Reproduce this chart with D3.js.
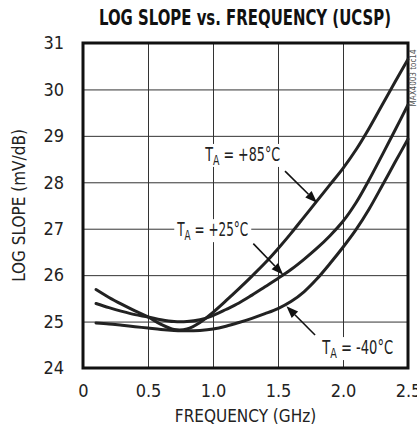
<!DOCTYPE html>
<head>
    <script src="https://d3js.org/d3.v7.min.js"></script>
    <style>
        body { margin: 0; background: #fff; }
        svg text { font-family: "Liberation Sans Narrow", "Arial Narrow", "DejaVu Sans Condensed", sans-serif; font-stretch: condensed; fill: #222; }
    </style>
</head>
<body>
    <script>
        // data
        const freq = [0.1, 0.2, 0.3, 0.4, 0.5, 0.6, 0.7, 0.8, 0.9, 1.0, 1.1, 1.2, 1.3,
            1.4, 1.5, 1.6, 1.7, 1.8, 1.9, 2.0, 2.1, 2.2, 2.3, 2.4, 2.5];
        const slope85 = [25.69, 25.52, 25.37, 25.23, 25.10, 24.94, 24.83, 24.84, 24.98, 25.20, 25.45, 25.71, 25.98,
            26.26, 26.57, 26.90, 27.25, 27.60, 27.95, 28.30, 28.70, 29.16, 29.66, 30.16, 30.65];
        const slope25 = [25.39, 25.30, 25.22, 25.15, 25.10, 25.04, 25.00, 25.00, 25.04, 25.13, 25.26, 25.40, 25.57,
            25.75, 25.93, 26.12, 26.34, 26.58, 26.85, 27.16, 27.56, 28.05, 28.58, 29.12, 29.67];
        const slopeM40 = [24.97, 24.95, 24.92, 24.89, 24.86, 24.83, 24.81, 24.80, 24.81, 24.84, 24.90, 24.98, 25.07,
            25.17, 25.28, 25.43, 25.64, 25.92, 26.25, 26.60, 26.98, 27.42, 27.92, 28.43, 28.93];
        const xTicks = [0, 0.5, 1.0, 1.5, 2.0, 2.5];
        const yTicks = [24, 25, 26, 27, 28, 29, 30, 31];

        // labels + arrows, in data units
        const notes = [
            { temp: "+85°C", lx: 0.94, ly: 28.46, w: 75, from: [1.554, 28.24], to: [1.80, 27.56] },
            { temp: "+25°C", lx: 0.725, ly: 26.84, w: 71, from: [1.31, 26.68], to: [1.54, 26.01] },
            { temp: "-40°C", lx: 1.84, ly: 24.30, w: 71, from: [1.785, 24.71], to: [1.565, 25.33] }
        ];

        const svg = d3.select("body")
            .append("svg")
            .attr("width", 417)
            .attr("height", 431);
        const margin = { top: 43, left: 83, right: 9, bottom: 63 };
        const width = 417 - margin.left - margin.right;
        const height = 431 - margin.top - margin.bottom;
        const chart = svg.append("g")
            .attr("transform", `translate(${margin.left},${margin.top})`);

        const x = d3.scaleLinear().domain([0, 2.5]).range([0, width]);
        const y = d3.scaleLinear().domain([24, 31]).range([height, 0]);

        // title
        svg.append("text")
            .attr("x", 99)
            .attr("y", 25)
            .attr("textLength", 292)
            .attr("lengthAdjust", "spacingAndGlyphs")
            .style("font-size", "21px")
            .style("font-weight", "bold")
            .style("fill", "#111")
            .text("LOG SLOPE vs. FREQUENCY (UCSP)");

        // grid via axes
        const xAxis = chart.append("g")
            .attr("transform", `translate(0,${height})`)
            .call(d3.axisBottom(x).tickValues(xTicks).tickSize(-height).tickPadding(16)
                .tickFormat(d => d === 0 ? "0" : d3.format(".1f")(d)));
        const yAxis = chart.append("g")
            .call(d3.axisLeft(y).tickValues(yTicks).tickSize(-width).tickPadding(19)
                .tickFormat(d3.format("d")));
        [xAxis, yAxis].forEach(a => {
            a.select(".domain").remove();
            a.attr("font-family", null).attr("font-size", null);
            a.selectAll(".tick line").attr("stroke", "#333").attr("stroke-width", 1);
            a.selectAll(".tick text").style("font-size", "18px").attr("fill", "#222");
        });

        // frame
        chart.append("rect")
            .attr("width", width)
            .attr("height", height)
            .attr("fill", "none")
            .attr("stroke", "#111")
            .attr("stroke-width", 3);

        // axis titles
        svg.append("text")
            .attr("x", margin.left + width / 2)
            .attr("y", 422)
            .attr("text-anchor", "middle")
            .style("font-size", "17px")
            .text("FREQUENCY (GHz)");
        svg.append("text")
            .attr("transform", `translate(25,${margin.top + height / 2}) rotate(-90)`)
            .attr("text-anchor", "middle")
            .style("font-size", "17px")
            .text("LOG SLOPE (mV/dB)");

        // side code
        svg.append("text")
            .attr("transform", "translate(416,78) rotate(-90)")
            .attr("text-anchor", "middle")
            .style("font-size", "8px")
            .style("fill", "#555")
            .text("MAX4003 toc14");

        // curves
        const line = d3.line()
            .x((d, i) => x(freq[i]))
            .y(d => y(d))
            .curve(d3.curveCatmullRom.alpha(0.5));
        [slope85, slope25, slopeM40].forEach(s => {
            chart.append("path")
                .datum(s)
                .attr("fill", "none")
                .attr("stroke", "#222")
                .attr("stroke-width", 3)
                .attr("stroke-linecap", "round")
                .attr("d", line);
        });

        // annotations
        notes.forEach(n => {
            const g = chart.append("g");
            const bg = g.append("rect").attr("fill", "#fff")
                .attr("x", x(n.lx) - 3).attr("y", y(n.ly) - 17)
                .attr("width", n.w + 6).attr("height", 23);
            const lab = g.append("g")
                .attr("transform", `translate(${x(n.lx)},${y(n.ly)})`);
            const t = lab.append("text").style("font-size", "19px");
            t.append("tspan").text("T");
            t.append("tspan").attr("dy", 4).style("font-size", "14px").text("A");
            t.append("tspan").attr("dy", -4).text(" = " + n.temp);
            const nat = t.node().getComputedTextLength();
            t.attr("transform", `scale(${n.w / nat},1)`);

            const x1 = x(n.from[0]), y1 = y(n.from[1]);
            const x2 = x(n.to[0]), y2 = y(n.to[1]);
            const ang = Math.atan2(y2 - y1, x2 - x1);
            const len = 12, hw = 4.5;
            const bx = x2 - len * Math.cos(ang), by = y2 - len * Math.sin(ang);
            g.append("line")
                .attr("x1", x1).attr("y1", y1)
                .attr("x2", bx).attr("y2", by)
                .attr("stroke", "#111")
                .attr("stroke-width", 1.6);
            g.append("path")
                .attr("d", `M${x2},${y2}L${bx - hw * Math.sin(ang)},${by + hw * Math.cos(ang)}L${bx + hw * Math.sin(ang)},${by - hw * Math.cos(ang)}Z`)
                .attr("fill", "#111");
        });
    </script>
</body>
